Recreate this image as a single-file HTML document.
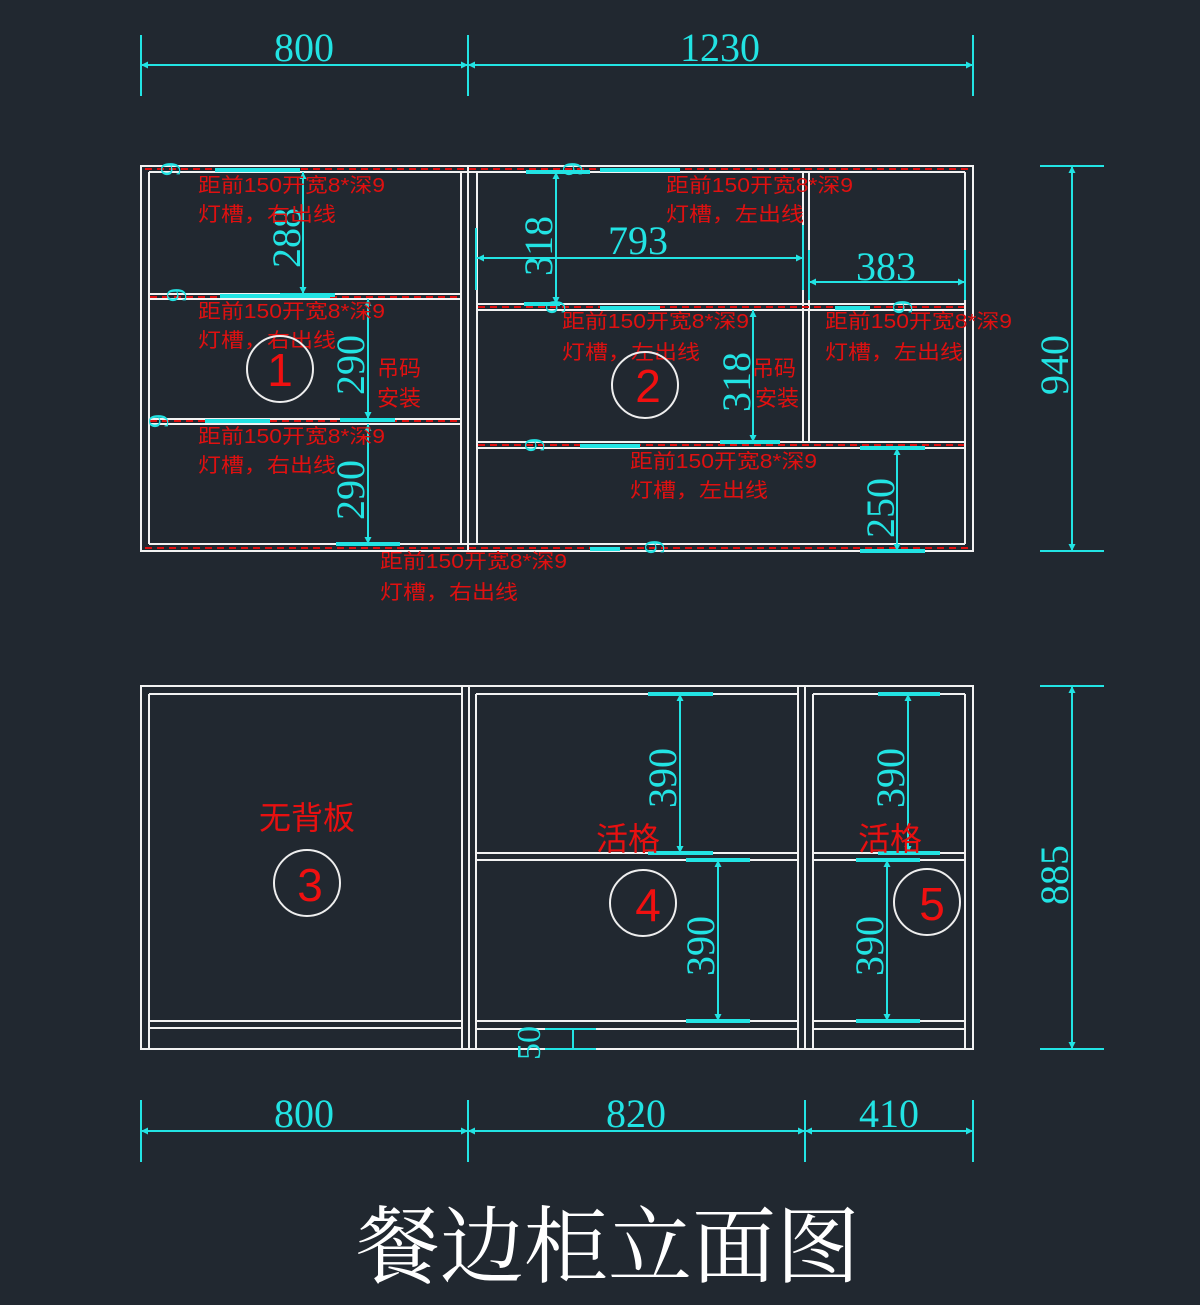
<!DOCTYPE html>
<html><head><meta charset="utf-8">
<style>
html,body{margin:0;padding:0;background:#212830;}
svg{display:block}
.w{stroke:#f2f2f2;stroke-width:2;fill:none}
.c{stroke:#22e3e3;stroke-width:2;fill:none}
.cb{stroke:#22e3e3;stroke-width:4;fill:none}
.r{stroke:#e01010;stroke-width:2;stroke-dasharray:7,5;fill:none}
.dt{font-family:"Liberation Serif",serif;fill:#22e3e3;font-size:40px}
.vt{font-family:"Liberation Serif",serif;fill:#22e3e3;font-size:40px}
.rt{font-family:"Liberation Sans","Noto Sans CJK SC",sans-serif;fill:#e01010;font-size:20px}
.rb{font-family:"Liberation Sans","Noto Sans CJK SC",sans-serif;fill:#e81010;font-size:32px}
.num{font-family:"Liberation Sans",sans-serif;fill:#f01010;font-size:46px}
.ci{stroke:#eee;stroke-width:2;fill:none}
.nine{font-family:"Liberation Serif",serif;fill:#22e3e3;font-size:28px}
</style></head><body>
<svg width="1200" height="1305" viewBox="0 0 1200 1305" xmlns="http://www.w3.org/2000/svg">
<defs>
<marker id="a" viewBox="0 0 10 10" refX="10" refY="5" markerWidth="16" markerHeight="7" orient="auto-start-reverse" markerUnits="userSpaceOnUse"><path d="M0,0 L10,5 L0,10 z" fill="#22e3e3"/></marker>
</defs>
<rect width="1200" height="1305" fill="#212830"/>

<g class="c">
<line x1="141" y1="35" x2="141" y2="96"/><line x1="468" y1="35" x2="468" y2="96"/><line x1="973" y1="35" x2="973" y2="96"/>
<line x1="141" y1="65" x2="468" y2="65" marker-start="url(#a)" marker-end="url(#a)"/>
<line x1="468" y1="65" x2="973" y2="65" marker-start="url(#a)" marker-end="url(#a)"/>
</g>
<text class="dt" x="304" y="61" text-anchor="middle">800</text>
<text class="dt" x="720" y="61" text-anchor="middle">1230</text>

<g class="w">
<rect x="141" y="166" width="832" height="385"/>
<line x1="149" y1="172" x2="149" y2="544"/>
<line x1="461" y1="172" x2="461" y2="544"/>
<line x1="468" y1="166" x2="468" y2="551"/>
<line x1="477" y1="172" x2="477" y2="544"/>
<line x1="965" y1="172" x2="965" y2="544"/>
<line x1="149" y1="172" x2="965" y2="172"/>
<line x1="149" y1="544" x2="965" y2="544"/>
<line x1="149" y1="294" x2="461" y2="294"/><line x1="149" y1="299" x2="461" y2="299"/>
<line x1="149" y1="419" x2="461" y2="419"/><line x1="149" y1="424" x2="461" y2="424"/>
<line x1="477" y1="304" x2="965" y2="304"/><line x1="477" y1="310" x2="965" y2="310"/>
<line x1="477" y1="442" x2="965" y2="442"/><line x1="477" y1="448" x2="965" y2="448"/>
<line x1="803" y1="172" x2="803" y2="442"/><line x1="809" y1="172" x2="809" y2="442"/>
</g>
<g class="r">
<line x1="145" y1="169" x2="970" y2="169"/>
<line x1="150" y1="297" x2="460" y2="297"/>
<line x1="150" y1="421" x2="460" y2="421"/>
<line x1="478" y1="307" x2="964" y2="307"/>
<line x1="478" y1="445" x2="964" y2="445"/>
<line x1="145" y1="548" x2="970" y2="548"/>
</g>
<g class="cb">
<line x1="215" y1="170" x2="300" y2="170"/><line x1="600" y1="170" x2="680" y2="170"/>
<line x1="220" y1="296" x2="330" y2="296"/><line x1="600" y1="308" x2="660" y2="308"/>
<line x1="835" y1="308" x2="870" y2="308"/>
<line x1="205" y1="421" x2="270" y2="421"/><line x1="580" y1="446" x2="640" y2="446"/>
<line x1="590" y1="549" x2="620" y2="549"/>
</g>
<g class="nine">
<text transform="translate(180,162) rotate(-90)" text-anchor="end">9</text>
<text transform="translate(186,288) rotate(-90)" text-anchor="end">9</text>
<text transform="translate(168,414) rotate(-90)" text-anchor="end">9</text>
<text transform="translate(582,162) rotate(-90)" text-anchor="end">9</text>
<text transform="translate(565,300) rotate(-90)" text-anchor="end">9</text>
<text transform="translate(912,300) rotate(-90)" text-anchor="end">9</text>
<text transform="translate(544,438) rotate(-90)" text-anchor="end">9</text>
<text transform="translate(664,540) rotate(-90)" text-anchor="end">9</text>
</g>

<g class="c">
<line x1="303" y1="172" x2="303" y2="294" marker-start="url(#a)" marker-end="url(#a)"/>
<line x1="368" y1="299" x2="368" y2="419" marker-start="url(#a)" marker-end="url(#a)"/>
<line x1="368" y1="424" x2="368" y2="544" marker-start="url(#a)" marker-end="url(#a)"/>
<line x1="556" y1="172" x2="556" y2="304" marker-start="url(#a)" marker-end="url(#a)"/>
<line x1="753" y1="310" x2="753" y2="442" marker-start="url(#a)" marker-end="url(#a)"/>
<line x1="897" y1="448" x2="897" y2="551" marker-start="url(#a)" marker-end="url(#a)"/>
<line x1="477" y1="258" x2="803" y2="258" marker-start="url(#a)" marker-end="url(#a)"/>
<line x1="476" y1="228" x2="476" y2="290"/><line x1="803" y1="225" x2="803" y2="290"/>
<line x1="809" y1="282" x2="965" y2="282" marker-start="url(#a)" marker-end="url(#a)"/>
<line x1="809" y1="250" x2="809" y2="300"/><line x1="965" y1="250" x2="965" y2="300"/>
</g>
<g class="cb">
<line x1="280" y1="295" x2="335" y2="295"/><line x1="340" y1="420" x2="395" y2="420"/><line x1="336" y1="544" x2="400" y2="544"/>
<line x1="526" y1="172" x2="590" y2="172"/><line x1="524" y1="304" x2="560" y2="304"/>
<line x1="720" y1="442" x2="780" y2="442"/><line x1="860" y1="448" x2="925" y2="448"/><line x1="860" y1="551" x2="925" y2="551"/>
</g>
<text class="vt" transform="translate(300,268) rotate(-90)">288</text>
<text class="vt" transform="translate(364,395) rotate(-90)">290</text>
<text class="vt" transform="translate(364,520) rotate(-90)">290</text>
<text class="vt" transform="translate(552,276) rotate(-90)">318</text>
<text class="vt" transform="translate(750,412) rotate(-90)">318</text>
<text class="vt" transform="translate(894,538) rotate(-90)">250</text>
<text class="dt" x="638" y="254" text-anchor="middle">793</text>
<text class="dt" x="886" y="280" text-anchor="middle">383</text>

<g class="rt">
<text x="198" y="192" textLength="187" lengthAdjust="spacingAndGlyphs">距前150开宽8*深9</text><text x="198" y="221" textLength="138" lengthAdjust="spacingAndGlyphs">灯槽，右出线</text>
<text x="198" y="318" textLength="187" lengthAdjust="spacingAndGlyphs">距前150开宽8*深9</text><text x="198" y="347" textLength="138" lengthAdjust="spacingAndGlyphs">灯槽，右出线</text>
<text x="198" y="443" textLength="187" lengthAdjust="spacingAndGlyphs">距前150开宽8*深9</text><text x="198" y="472" textLength="138" lengthAdjust="spacingAndGlyphs">灯槽，右出线</text>
<text x="380" y="568" textLength="187" lengthAdjust="spacingAndGlyphs">距前150开宽8*深9</text><text x="380" y="599" textLength="138" lengthAdjust="spacingAndGlyphs">灯槽，右出线</text>
<text x="666" y="192" textLength="187" lengthAdjust="spacingAndGlyphs">距前150开宽8*深9</text><text x="666" y="221" textLength="138" lengthAdjust="spacingAndGlyphs">灯槽，左出线</text>
<text x="562" y="328" textLength="187" lengthAdjust="spacingAndGlyphs">距前150开宽8*深9</text><text x="562" y="359" textLength="138" lengthAdjust="spacingAndGlyphs">灯槽，左出线</text>
<text x="825" y="328" textLength="187" lengthAdjust="spacingAndGlyphs">距前150开宽8*深9</text><text x="825" y="359" textLength="138" lengthAdjust="spacingAndGlyphs">灯槽，左出线</text>
<text x="630" y="468" textLength="187" lengthAdjust="spacingAndGlyphs">距前150开宽8*深9</text><text x="630" y="497" textLength="138" lengthAdjust="spacingAndGlyphs">灯槽，左出线</text>
<text x="377" y="376" style="font-size:22px">吊码</text><text x="377" y="406" style="font-size:22px">安装</text>
<text x="752" y="376" style="font-size:22px">吊码</text><text x="755" y="406" style="font-size:22px">安装</text>
</g>
<circle class="ci" cx="280" cy="369" r="33"/><text class="num" x="280" y="386" text-anchor="middle">1</text>
<circle class="ci" cx="645" cy="385" r="33"/><text class="num" x="648" y="402" text-anchor="middle">2</text>

<g class="c">
<line x1="1040" y1="166" x2="1104" y2="166"/><line x1="1040" y1="551" x2="1104" y2="551"/>
<line x1="1072" y1="166" x2="1072" y2="551" marker-start="url(#a)" marker-end="url(#a)"/>
<line x1="1040" y1="686" x2="1104" y2="686"/><line x1="1040" y1="1049" x2="1104" y2="1049"/>
<line x1="1072" y1="686" x2="1072" y2="1049" marker-start="url(#a)" marker-end="url(#a)"/>
</g>
<text class="vt" transform="translate(1068,395) rotate(-90)">940</text>
<text class="vt" transform="translate(1068,905) rotate(-90)">885</text>

<g class="w">
<rect x="141" y="686" width="832" height="363"/>
<line x1="149" y1="694" x2="149" y2="1049"/>
<line x1="462" y1="686" x2="462" y2="1049"/><line x1="469" y1="686" x2="469" y2="1049"/>
<line x1="476" y1="694" x2="476" y2="1049"/>
<line x1="798" y1="686" x2="798" y2="1049"/><line x1="805" y1="686" x2="805" y2="1049"/>
<line x1="813" y1="694" x2="813" y2="1049"/>
<line x1="965" y1="694" x2="965" y2="1049"/>
<line x1="149" y1="694" x2="462" y2="694"/><line x1="476" y1="694" x2="798" y2="694"/><line x1="813" y1="694" x2="965" y2="694"/>
<line x1="476" y1="853" x2="798" y2="853"/><line x1="476" y1="860" x2="798" y2="860"/>
<line x1="813" y1="853" x2="965" y2="853"/><line x1="813" y1="860" x2="965" y2="860"/>
<line x1="149" y1="1021" x2="462" y2="1021"/><line x1="149" y1="1028" x2="462" y2="1028"/>
<line x1="476" y1="1021" x2="798" y2="1021"/><line x1="476" y1="1029" x2="798" y2="1029"/>
<line x1="813" y1="1021" x2="965" y2="1021"/><line x1="813" y1="1029" x2="965" y2="1029"/>
</g>
<g class="c">
<line x1="680" y1="694" x2="680" y2="853" marker-start="url(#a)" marker-end="url(#a)"/>
<line x1="718" y1="860" x2="718" y2="1021" marker-start="url(#a)" marker-end="url(#a)"/>
<line x1="908" y1="694" x2="908" y2="853" marker-start="url(#a)" marker-end="url(#a)"/>
<line x1="887" y1="860" x2="887" y2="1021" marker-start="url(#a)" marker-end="url(#a)"/>
<line x1="573" y1="1029" x2="573" y2="1049"/>
<line x1="545" y1="1029" x2="596" y2="1029"/><line x1="545" y1="1049" x2="596" y2="1049"/>
</g>
<g class="cb">
<line x1="648" y1="694" x2="713" y2="694"/><line x1="648" y1="853" x2="713" y2="853"/>
<line x1="686" y1="860" x2="750" y2="860"/><line x1="686" y1="1021" x2="750" y2="1021"/>
<line x1="878" y1="694" x2="940" y2="694"/><line x1="878" y1="853" x2="940" y2="853"/>
<line x1="856" y1="860" x2="920" y2="860"/><line x1="856" y1="1021" x2="920" y2="1021"/>
</g>
<text class="vt" transform="translate(676,808) rotate(-90)">390</text>
<text class="vt" transform="translate(714,976) rotate(-90)">390</text>
<text class="vt" transform="translate(904,808) rotate(-90)">390</text>
<text class="vt" transform="translate(883,976) rotate(-90)">390</text>
<text class="vt" style="font-size:34px" transform="translate(540,1060) rotate(-90)">50</text>
<text class="rb" x="307" y="829" text-anchor="middle">无背板</text>
<text class="rb" x="628" y="850" text-anchor="middle">活格</text>
<text class="rb" x="890" y="850" text-anchor="middle">活格</text>
<ellipse class="ci" cx="307" cy="883" rx="33" ry="33"/><text class="num" x="310" y="901" text-anchor="middle">3</text>
<ellipse class="ci" cx="643" cy="903" rx="33" ry="33"/><text class="num" x="648" y="921" text-anchor="middle">4</text>
<ellipse class="ci" cx="927" cy="902" rx="33" ry="33"/><text class="num" x="932" y="920" text-anchor="middle">5</text>

<g class="c">
<line x1="141" y1="1100" x2="141" y2="1162"/><line x1="468" y1="1100" x2="468" y2="1162"/>
<line x1="805" y1="1100" x2="805" y2="1162"/><line x1="973" y1="1100" x2="973" y2="1162"/>
<line x1="141" y1="1131" x2="468" y2="1131" marker-start="url(#a)" marker-end="url(#a)"/>
<line x1="468" y1="1131" x2="805" y2="1131" marker-start="url(#a)" marker-end="url(#a)"/>
<line x1="805" y1="1131" x2="973" y2="1131" marker-start="url(#a)" marker-end="url(#a)"/>
</g>
<text class="dt" x="304" y="1127" text-anchor="middle">800</text>
<text class="dt" x="636" y="1127" text-anchor="middle">820</text>
<text class="dt" x="889" y="1127" text-anchor="middle">410</text>

<text x="608" y="1276" text-anchor="middle" style="font-family:'Liberation Serif','Noto Serif CJK SC',serif;font-size:84px;fill:#ffffff">餐边柜立面图</text>
</svg>
</body></html>
